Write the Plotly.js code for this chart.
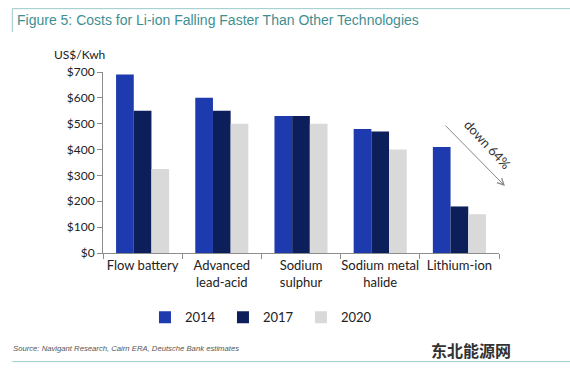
<!DOCTYPE html>
<html>
<head>
<meta charset="utf-8">
<script src="https://cdn.plot.ly/plotly-3.0.1.min.js"></script>
<style>html,body{margin:0;padding:0;background:#fff;}#chart{width:570px;height:372px;}</style>
</head>
<body>
<div id="chart"></div>
<script>
const categories = ["Flow battery", "Advanced<br>lead-acid", "Sodium<br>sulphur", "Sodium metal<br>halide", "Lithium-ion"];
const seriesNames = ["2014", "2017", "2020"];
const values2014 = [690, 600, 530, 480, 410];
const values2017 = [550, 550, 530, 470, 180];
const values2020 = [325, 500, 500, 400, 150];
const yTickVals = [0, 100, 200, 300, 400, 500, 600, 700];
const yTickText = ["$0", "$100", "$200", "$300", "$400", "$500", "$600", "$700"];
const colors = ["#1d3aae", "#0c1f5a", "#d9d9d9"];

const allValues = [values2014, values2017, values2020];
const traces = allValues.map((v, i) => ({
  type: "bar",
  name: seriesNames[i],
  x: categories,
  y: v,
  marker: {color: colors[i], line: {width: 0}},
  hoverinfo: "none"
}));

const tickFont = {family: "Lato, 'Open Sans', sans-serif", size: 12, color: "#222"};
const xTickFont = {family: "Lato, 'Open Sans', sans-serif", size: 13, color: "#222"};
const teal = "#3f8f92";

const layout = {
  width: 570, height: 372,
  margin: {l: 103, r: 71, t: 72, b: 119},
  paper_bgcolor: "#fff", plot_bgcolor: "#fff",
  barmode: "group",
  bargap: 0.33, bargroupgap: 0,
  showlegend: true,
  legend: {
    orientation: "h", x: 0.106, y: -0.355, xanchor: "left", yanchor: "middle",
    font: {family: "Lato, 'Open Sans', sans-serif", size: 13, color: "#222"},
    entrywidth: 33, entrywidthmode: "pixels", itemwidth: 30, traceorder: "normal",
    bgcolor: "rgba(0,0,0,0)"
  },
  xaxis: {
    type: "category",
    tickfont: xTickFont, tickangle: 0,
    showline: true, linecolor: "#8c8c8c", linewidth: 1,
    ticks: "outside", tickson: "boundaries", ticklen: 5, tickcolor: "#8c8c8c",
    showgrid: false, zeroline: false, fixedrange: true
  },
  yaxis: {
    range: [0, 700],
    tickvals: yTickVals, ticktext: yTickText,
    tickfont: tickFont,
    showline: true, linecolor: "#8c8c8c", linewidth: 1,
    ticks: "outside", ticklen: 5, tickcolor: "#8c8c8c",
    showgrid: false, zeroline: false, fixedrange: true
  },
  shapes: [
    {type: "line", xref: "paper", yref: "paper", x0: -0.229, x1: 1.2, y0: 1.35, y1: 1.35, line: {color: "#9ccaca", width: 1}},
    {type: "line", xref: "paper", yref: "paper", x0: -0.229, x1: -0.229, y0: 1.35, y1: 1.22, line: {color: "#9ccaca", width: 1}},
    {type: "line", xref: "paper", yref: "paper", x0: -0.229, x1: 1.2, y0: -0.6, y1: -0.6, line: {color: "#9ccaca", width: 1}}
  ],
  annotations: [
    {text: "Figure 5: Costs for Li-ion Falling Faster Than Other Technologies", xref: "paper", yref: "paper",
     x: -0.222, y: 1.287, xanchor: "left", yanchor: "middle", showarrow: false,
     font: {family: "'Liberation Sans', Arial, sans-serif", size: 14, color: teal}},
    {text: "US$/Kwh", xref: "paper", yref: "paper", x: -0.13, y: 1.095, xanchor: "left", yanchor: "middle", showarrow: false,
     font: {family: "Lato, 'Open Sans', sans-serif", size: 12, color: "#222"}},
    {text: "", xref: "paper", yref: "paper", x: 1.015, y: 0.37, ax: -61, ay: -62, showarrow: true,
     arrowhead: 5, arrowsize: 1.3, arrowwidth: 1, arrowcolor: "#888"},
    {text: "down 64%", xref: "paper", yref: "paper", x: 0.97, y: 0.60, xanchor: "center", yanchor: "middle",
     showarrow: false, textangle: 47,
     font: {family: "Lato, 'Open Sans', sans-serif", size: 13, color: "#333"}},
    {text: "<i>Source: Navigant Research, Cairn ERA, Deutsche Bank estimates</i>", xref: "paper", yref: "paper",
     x: -0.232, y: -0.53, xanchor: "left", yanchor: "middle", showarrow: false,
     font: {family: "'Liberation Sans', Arial, sans-serif", size: 7.7, color: "#555"}},
    {text: "<b>东北能源网</b>", xref: "paper", yref: "paper", x: 0.93, y: -0.535, xanchor: "center", yanchor: "middle", showarrow: false,
     font: {family: "'Noto Sans CJK SC', sans-serif", size: 16, color: "#333"}}
  ]
};

Plotly.newPlot("chart", traces, layout, {staticPlot: true, displayModeBar: false});
</script>
</body>
</html>
